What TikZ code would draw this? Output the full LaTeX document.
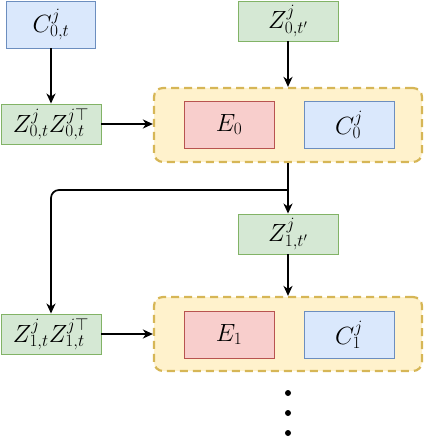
\documentclass[tikz,border=0pt]{standalone}
\usetikzlibrary{arrows.meta}
\definecolor{bluef}{HTML}{DAE8FC}\definecolor{bluel}{HTML}{6C8EBF}
\definecolor{greenf}{HTML}{D5E8D4}\definecolor{greenl}{HTML}{82B366}
\definecolor{redf}{HTML}{F8CECC}\definecolor{redl}{HTML}{B85450}
\definecolor{yelf}{HTML}{FFF2CC}\definecolor{yell}{HTML}{D6B656}
\begin{document}
\begin{tikzpicture}[x=1pt,y=-1pt,
  every node/.style={font=\fontsize{24}{28}\selectfont, inner sep=0pt},
  bluebox/.style={draw=bluel, fill=bluef, line width=0.9pt, minimum width=89pt, minimum height=47pt},
  greenbox/.style={draw=greenl, fill=greenf, line width=0.9pt, minimum width=100pt, minimum height=40pt},
  redbox/.style={draw=redl, fill=redf, line width=0.9pt, minimum width=90pt, minimum height=47pt},
  cbox/.style={draw=bluel, fill=bluef, line width=0.9pt, minimum width=90pt, minimum height=47pt},
  container/.style={draw=yell, fill=yelf, line width=2.2pt, dash pattern=on 8pt off 5pt, rounded corners=9pt, minimum width=268pt, minimum height=74pt},
  arr/.style={-{Stealth[length=10pt,width=9pt,inset=3pt]}, line width=1.7pt, black},
  dot/.style={circle, fill=black, minimum size=6pt}
]
\useasboundingbox (0,0) rectangle (426,438);
\node[bluebox] (c0t) at (51,24.5) {$C^{j}_{0,t}$};
\node[greenbox] (z0tp) at (288,21) {$Z^{j}_{0,t'}$};
\node[greenbox] (z0) at (51,124) {$Z^{j}_{0,t}Z^{j\top}_{0,t}$};
\node[container] (k0) at (288,125) {};
\node[redbox] (e0) at (229,124.5) {$E_0$};
\node[cbox] (cc0) at (349,124.5) {$C^{j}_{0}$};
\node[greenbox] (z1tp) at (288,234) {$Z^{j}_{1,t'}$};
\node[greenbox] (z1) at (51,334) {$Z^{j}_{1,t}Z^{j\top}_{1,t}$};
\node[container] (k1) at (288,334) {};
\node[redbox] (e1) at (229,334.5) {$E_1$};
\node[cbox] (cc1) at (349,334.5) {$C^{j}_{1}$};
\node[dot] (d1) at (288,393) {};
\node[dot] (d2) at (288,413) {};
\node[dot] (d3) at (288,433) {};
\coordinate (br) at (288,190);
\draw[arr] (c0t) -- (z0);
\draw[arr] (z0tp) -- (k0);
\draw[arr] (z0) -- (k0.west |- z0);
\draw[arr] (k0) -- (z1tp);
\draw[arr, rounded corners=8pt] (br) -| (z1.north);
\draw[arr] (z1tp) -- (k1);
\draw[arr] (z1) -- (k1.west |- z1);
\end{tikzpicture}
\end{document}
